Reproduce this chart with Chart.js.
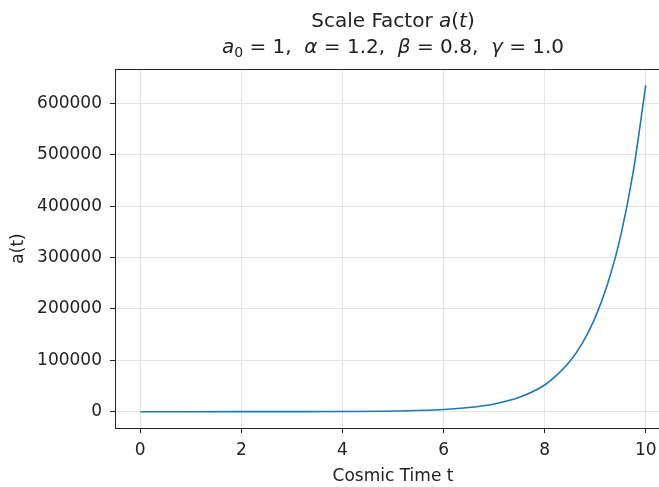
<!DOCTYPE html>
<html>
<head>
<meta charset="utf-8">
<script src="https://cdn.jsdelivr.net/npm/chart.js@4"></script>
<style>
  html, body { margin: 0; padding: 0; background: #fff; overflow: hidden; }
  #janela { width: 659px; height: 487px; overflow: hidden; position: relative; }
  #wrap { width: 680px; height: 487px; position: absolute; left: 0; top: 0; }
</style>
</head>
<body>
<div id="janela"><div id="wrap"><canvas id="grafico"></canvas></div></div>
<script>
// dados (t, a(t))
const tempos = [0, 1, 2, 3, 4, 5, 6, 6.5, 7, 7.5, 8, 8.25, 8.5, 8.75, 9, 9.25, 9.5, 9.75, 10];
const escala = [1, 6, 25, 90, 330, 1200, 4300, 8000, 15000, 28000, 52000, 72000, 98000, 134000, 183000, 250000, 340000, 465000, 635000];
const ticksX = [0, 2, 4, 6, 8, 10];
const ticksY = [0, 100000, 200000, 300000, 400000, 500000, 600000];

const fonte = "'DejaVu Sans', sans-serif";

// titulo em duas linhas, com partes em italico (estilo mathtext)
// cada pedaço: [texto, estilo]  (n = normal, i = italico, s = subscrito)
const linhasTitulo = [
  [['Scale Factor ', 'n'], ['a', 'i'], ['(', 'n'], ['t', 'i'], [')', 'n']],
  [['a', 'i'], ['0', 's'], [' = 1,  ', 'n'], ['\u03b1', 'i'], [' = 1.2,  ', 'n'], ['\u03b2', 'i'], [' = 0.8,  ', 'n'], ['\u03b3', 'i'], [' = 1.0', 'n']]
];

const tituloPlugin = {
  id: 'titulo',
  afterDraw(chart) {
    const ctx = chart.ctx;
    const a = chart.chartArea;
    const cx = (a.left + a.right) / 2;
    const tam = 20;
    const fontes = {
      n: `${tam}px ${fonte}`,
      i: `italic ${tam}px ${fonte}`,
      s: `${Math.round(tam * 0.7)}px ${fonte}`
    };
    const ys = [22, 48];
    ctx.save();
    ctx.fillStyle = '#222';
    ctx.textBaseline = 'middle';
    ctx.textAlign = 'left';
    linhasTitulo.forEach((linha, k) => {
      // mede a largura total da linha para centralizar
      let total = 0;
      linha.forEach(([txt, st]) => { ctx.font = fontes[st]; total += ctx.measureText(txt).width; });
      let x = cx - total / 2;
      linha.forEach(([txt, st]) => {
        ctx.font = fontes[st];
        ctx.fillText(txt, x, st === 's' ? ys[k] + 5 : ys[k]);
        x += ctx.measureText(txt).width;
      });
    });
    ctx.restore();
  }
};

// moldura em volta da area do grafico (spines)
const moldura = {
  id: 'moldura',
  afterDatasetsDraw(chart) {
    const a = chart.chartArea;
    const ctx = chart.ctx;
    ctx.save();
    ctx.strokeStyle = '#222';
    ctx.lineWidth = 1;
    ctx.strokeRect(a.left + 0.5, a.top + 0.5, a.right - a.left, a.bottom - a.top);
    ctx.restore();
  }
};

new Chart(document.getElementById('grafico'), {
  type: 'line',
  data: {
    datasets: [{
      data: tempos.map((t, i) => ({ x: t, y: escala[i] })),
      borderColor: '#1f77b4',
      borderWidth: 1.6,
      pointRadius: 0,
      cubicInterpolationMode: 'monotone',
      fill: false
    }]
  },
  options: {
    responsive: true,
    maintainAspectRatio: false,
    animation: false,
    layout: { padding: { left: 0, right: 9, top: 69, bottom: 0 } },
    plugins: {
      legend: { display: false },
      tooltip: { enabled: false },
      title: { display: false }
    },
    scales: {
      x: {
        type: 'linear',
        min: -0.5,
        max: 10.5,
        afterBuildTicks: axis => { axis.ticks = ticksX.map(v => ({ value: v })); },
        afterFit: axis => { axis.height = 59; },
        grid: { color: '#e4e4e4', tickColor: '#222', tickLength: 5, drawTicks: true },
        border: { display: false },
        ticks: { color: '#222', font: { family: fonte, size: 17 }, padding: 7, maxRotation: 0 },
        title: { display: true, text: 'Cosmic Time t', color: '#222', font: { family: fonte, size: 17 }, padding: { top: 0, bottom: 0 } }
      },
      y: {
        type: 'linear',
        min: -31750,
        max: 666750,
        afterBuildTicks: axis => { axis.ticks = ticksY.map(v => ({ value: v })); },
        afterFit: axis => { axis.width = 115; },
        grid: { color: '#e4e4e4', tickColor: '#222', tickLength: 5, drawTicks: true },
        border: { display: false },
        ticks: { color: '#222', font: { family: fonte, size: 17 }, padding: 8, callback: v => String(v) },
        title: { display: true, text: 'a(t)', color: '#222', font: { family: fonte, size: 17 }, padding: { top: 8, bottom: 0 } }
      }
    }
  },
  plugins: [moldura, tituloPlugin]
});
</script>
</body>
</html>
